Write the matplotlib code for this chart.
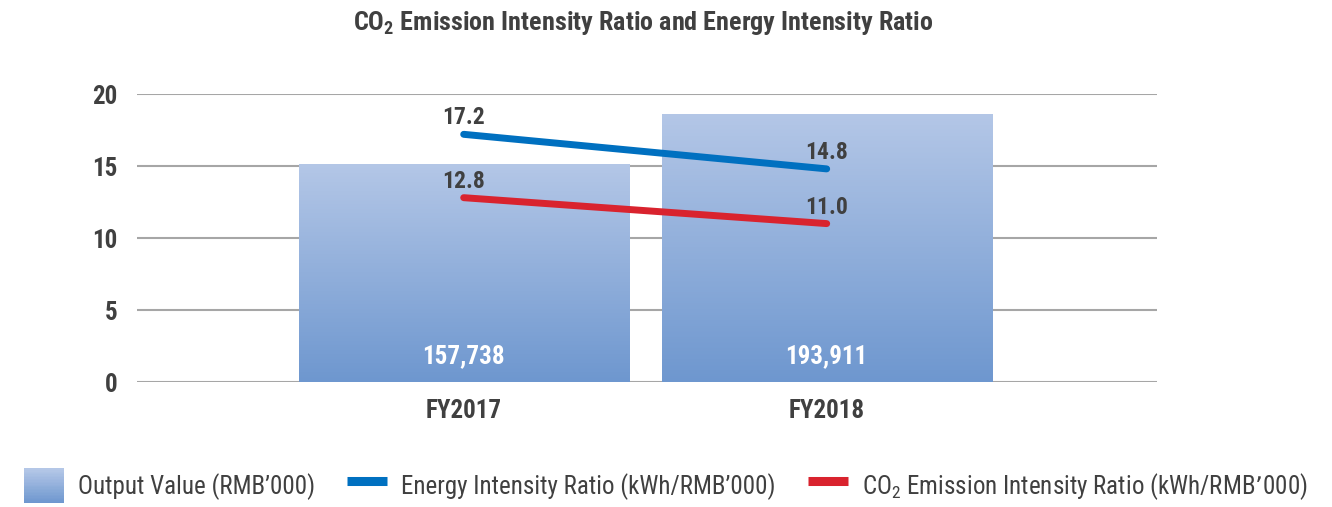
import numpy as np
import matplotlib
matplotlib.use("Agg")
import matplotlib.pyplot as plt
from matplotlib.patches import Patch, Rectangle
from matplotlib.lines import Line2D
from matplotlib.legend_handler import HandlerBase

plt.rcParams['font.family'] = ['Roboto Condensed', 'IBM Plex Sans Condensed',
                               'Liberation Sans Narrow', 'DejaVu Sans']
plt.rcParams['mathtext.default'] = 'regular'

years = ["FY2017", "FY2018"]
output_value = [157738, 193911]
energy_ratio = [17.2, 14.8]
co2_ratio = [12.8, 11.0]

txt = "#404040"
blue = "#0070c0"
red = "#d9232e"
top_col = np.array([0xb4, 0xc7, 0xe7]) / 255
bot_col = np.array([0x6e, 0x97, 0xcf]) / 255


class GradientHandler(HandlerBase):
    # legend swatch with the same top-to-bottom gradient as the bars
    def create_artists(self, legend, orig_handle, xdescent, ydescent,
                       width, height, fontsize, trans):
        n = 24
        arts = []
        for i in range(n):
            t = i / (n - 1)
            c = bot_col * (1 - t) + top_col * t
            arts.append(Rectangle((-xdescent, -ydescent + height * i / n),
                                  width, height / n + 0.3, facecolor=c,
                                  edgecolor="none", transform=trans))
        return arts


fig = plt.figure(figsize=(13.32, 5.07), dpi=100)
ax = fig.add_axes([137 / 1332, 1 - 382 / 507, 1020 / 1332, 288 / 507])
x = np.arange(len(years))
xlim = (-0.9, 1.91)

# base axis: ticks + grid
ax.set_xlim(*xlim)
ax.set_ylim(0, 20)
ax.set_yticks([0, 5, 10, 15, 20])
ax.yaxis.grid(True, color="#a6a6a6", linewidth=1.5)
ax.set_axisbelow(True)
for s in ax.spines.values():
    s.set_visible(False)
ax.tick_params(axis="y", length=0, pad=14, labelsize=18, labelcolor=txt)
ax.tick_params(axis="x", length=0, pad=12, labelsize=18, labelcolor=txt)
ax.set_xticks(x)
ax.set_xticklabels(years, fontweight="bold")
for lab in ax.get_yticklabels():
    lab.set_fontweight("bold")

# bars on hidden secondary scale
ax2 = ax.twinx()
ax2.set_ylim(0, 208000)
ax2.set_xlim(*xlim)
ax2.axis("off")
bars = ax2.bar(x, output_value, width=0.91, color="none", edgecolor="none")
grad = np.linspace(0, 1, 256)[:, None, None]
img = top_col * (1 - grad) + bot_col * grad
for b, v in zip(bars, output_value):
    x0, w, h = b.get_x(), b.get_width(), b.get_height()
    im = ax2.imshow(img, extent=[x0, x0 + w, 0, h], aspect="auto", zorder=1)
    im.set_clip_path(b)
    ax2.text(b.get_x() + w / 2, 18500, f"{v:,}", ha="center", va="center",
             color="white", fontsize=18, fontweight="bold")
ax2.set_xlim(*xlim)
ax2.set_ylim(0, 208000)

# lines on top
ax3 = ax.twinx()
ax3.set_ylim(0, 20)
ax3.set_xlim(*xlim)
ax3.axis("off")
ax3.plot(x, energy_ratio, color=blue, linewidth=5, solid_capstyle="round")
ax3.plot(x, co2_ratio, color=red, linewidth=5, solid_capstyle="round")
for xi, v in zip(x, energy_ratio):
    ax3.text(xi, v + 0.35, f"{v:.1f}", ha="center", va="bottom",
             color=txt, fontsize=17, fontweight="bold")
for xi, v in zip(x, co2_ratio):
    ax3.text(xi, v + 0.35, f"{v:.1f}", ha="center", va="bottom",
             color=txt, fontsize=17, fontweight="bold")

fig.text(643.5 / 1332, 1 - 23 / 507, "CO$_2$ Emission Intensity Ratio and Energy Intensity Ratio",
         ha="center", va="center", fontsize=18.8, fontweight="bold", color=txt)

handles = [
    Patch(facecolor="#95b0dc", edgecolor="none"),
    Line2D([], [], color=blue, linewidth=6.5, solid_capstyle="butt"),
    Line2D([], [], color=red, linewidth=6.5, solid_capstyle="butt"),
]
labels = ["Output Value (RMB\u2019000)", "Energy Intensity Ratio (kWh/RMB\u2019000)",
          "CO$_2$ Emission Intensity Ratio (kWh/RMB\u2019000)"]
leg = fig.legend(handles, labels, loc="center", bbox_to_anchor=(0.5, 1 - 486 / 507),
                 ncol=3, frameon=False, fontsize=18, handlelength=1.6,
                 handleheight=1.75, handletextpad=0.55, columnspacing=1.3,
                 labelcolor=txt, handler_map={Patch: GradientHandler()})

fig.savefig("out.png", dpi=100)
